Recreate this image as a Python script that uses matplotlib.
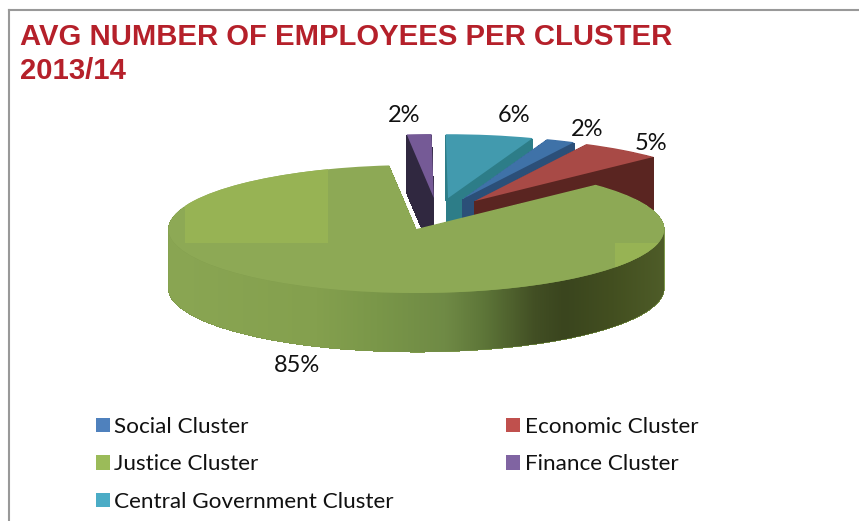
import numpy as np
import matplotlib
matplotlib.use("Agg")
import matplotlib.pyplot as plt
from matplotlib.colors import LinearSegmentedColormap
from matplotlib.patches import Patch, Polygon, Rectangle

# ==========================
# Data
# ==========================
clusters = ["Social Cluster", "Economic Cluster", "Justice Cluster",
            "Finance Cluster", "Central Government Cluster"]
# slice sizes, the labels show them rounded
shares = [1.9, 5.4, 85.4, 1.6, 5.7]

top_colors = ["#3f72a8", "#a84a46", "#8da955", "#755a96", "#429aae"]
wall_colors = ["#2b4f78", "#5a2521", "#7f9a4c", "#302840", "#2d7d88"]
legend_colors = ["#4f81bd", "#c0504d", "#9bbb59", "#8064a2", "#4bacc6"]

# drawing order, back to front
draw_order = [3, 4, 0, 1, 2]
# label centres in pixels
label_pos = [(587, 129), (651, 143), (297, 366), (404, 115), (514, 116)]

# ==========================
# Pixel scale of the squashed pie
# ==========================
W, H = 859, 521
CX, CY = 437.5, 214
RX, RY = 248, 64
DEPTH = 59


def px(x):
    return (x - CX) / RX


def py(y):
    return (CY - y) / RY


fig = plt.figure(figsize=(W / 100, H / 100), dpi=100)
ax = fig.add_axes([0, 0, 1, 1])

# ==========================
# Stack of pies for the thickness
# ==========================
layers = np.arange(DEPTH, -1, -1)
for layer in layers:
    wedges = ax.pie(shares, explode=[0.25] * 5, startangle=70, counterclock=False,
                    center=(0, -layer / RY), radius=1, frame=True)[0]
    for i, wedge in enumerate(wedges):
        on_top = layer == 0
        wedge.set_facecolor(top_colors[i] if on_top else wall_colors[i])
        wedge.set_linewidth(0)
        wedge.set_antialiased(bool(on_top))
        wedge.set_zorder(2 + draw_order.index(i) * 2 + (1 if on_top else 0))

justice_top = wedges[2]
gx, gy = justice_top.center

# ==========================
# Gradient on the front wall of the big slice
# ==========================
wall_cmap = LinearSegmentedColormap.from_list("wall", [
    (0.00, "#8aa653"), (0.30, "#84a04e"), (0.42, "#7a9749"), (0.56, "#6f8a45"),
    (0.64, "#5d7538"), (0.74, "#424f24"), (0.80, "#3a451e"), (0.90, "#434f20"),
    (1.00, "#4e5c28")])
im = ax.imshow(np.linspace(0, 1, 256).reshape(1, -1), cmap=wall_cmap, aspect="auto",
               extent=(gx - 1, gx + 1, gy - 1 - DEPTH / RY, gy), zorder=10)
theta = np.radians(np.linspace(180, 360, 200))
upper = np.column_stack([gx + np.cos(theta), gy + np.sin(theta)])
lower = upper[::-1] - [0, DEPTH / RY]
wall_shape = Polygon(np.vstack([upper, lower]), transform=ax.transData)
im.set_clip_path(wall_shape)
justice_top.set_zorder(11)

# lighter patches on the top of the big slice
for x0, y0, x1, y1 in [(185, 160, 328, 243), (615, 243, 670, 270)]:
    shine = Rectangle((px(x0), py(y1)), px(x1) - px(x0), py(y0) - py(y1),
                      facecolor="#97b354", linewidth=0, zorder=12)
    ax.add_patch(shine)
    shine.set_clip_path(justice_top)

ax.set_aspect("auto")
ax.set_xlim(px(0), px(W))
ax.set_ylim(py(H), py(0))
ax.axis("off")

# ==========================
# Text
# ==========================
fig.text(20 / W, 1 - 45 / H, "AVG NUMBER OF EMPLOYEES PER CLUSTER", color="#b5202a",
         fontsize=21.1, fontweight="bold", family="Liberation Sans", va="baseline")
fig.text(20 / W, 1 - 79 / H, "2013/14", color="#b5202a",
         fontsize=21.1, fontweight="bold", family="Liberation Sans", va="baseline")

for share, (x, y) in zip(shares, label_pos):
    fig.text(x / W, 1 - y / H, f"{share:.0f}%", fontsize=17, family="Lato",
             color="#111111", ha="center", va="center")

# legend fills by column, the chart reads by row
legend_order = [0, 2, 4, 1, 3]
handles = [Patch(facecolor=legend_colors[i], label=clusters[i]) for i in legend_order]
fig.legend(handles=handles, ncol=2, loc="upper left", bbox_to_anchor=(96 / W, 1 - 417 / H),
           borderaxespad=0, borderpad=0, frameon=False, prop={"family": "Lato", "size": 16.2},
           handlelength=0.6, handleheight=0.6, handletextpad=0.22, labelspacing=0.77,
           columnspacing=5.0, labelcolor="#111111")

# ==========================
# Frame
# ==========================
fig.add_artist(plt.Line2D([8.5 / W, 8.5 / W], [0, 1 - 10 / H], color="#999999", lw=1.5))
fig.add_artist(plt.Line2D([8.5 / W, 1], [1 - 10 / H, 1 - 10 / H], color="#999999", lw=1.5))

fig.savefig("out.png", dpi=100)
